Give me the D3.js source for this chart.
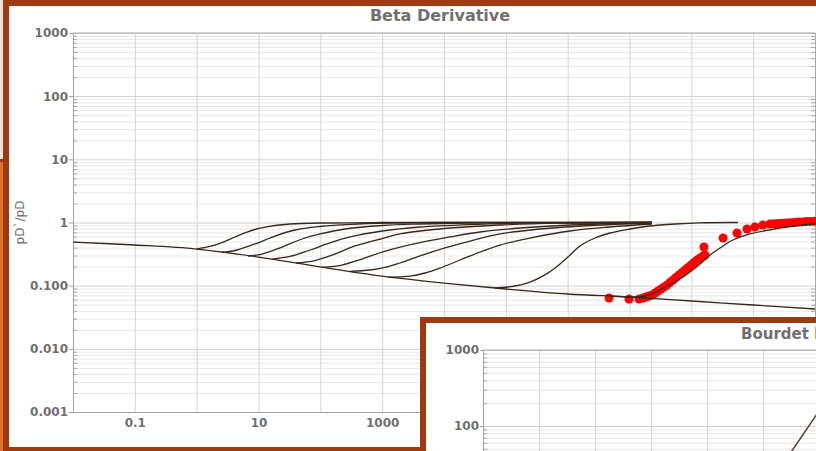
<!DOCTYPE html>
<html>
<head>
<meta charset="utf-8">
<script src="https://cdn.jsdelivr.net/npm/d3@7"></script>
<style>
  html, body { margin: 0; padding: 0; background: #fff; overflow: hidden; }
  svg { display: block; font-family: "DejaVu Sans", Verdana, sans-serif; }
</style>
</head>
<body>
<div id="root"></div>
<script>
const WIDTH = 816
const HEIGHT = 451
const FRAME_COLOR = '#a0390f'
const CURVE_COLOR = '#3a2718'
const TEXT_COLOR = '#6e6e6e'

// tick labels
const yTickValues = [0.001, 0.01, 0.1, 1, 10, 100, 1000]
const yTickLabels = ['0.001', '0.010', '0.100', '1', '10', '100', '1000']
const xTickValues = [0.1, 10, 1000, 1e5, 1e7, 1e9]
const xTickLabels = ['0.1', '10', '1000', '1.0E5', '1.0E7', '1.0E9']
const bourdetYTickValues = [100, 1000]
const bourdetYTickLabels = ['100', '1000']

// lower envelope (tD, pD'/pD)
const envelope = [
  [0.01, 0.49], [0.1, 0.44], [1, 0.38], [10, 0.284], [100, 0.198], [1000, 0.142],
  [1e4, 0.110], [1e5, 0.0886], [1e6, 0.0738], [1e7, 0.0662], [1e8, 0.0572],
  [1e9, 0.0494], [1e10, 0.0427]
]

// type curves leaving the envelope
const typeCurve1 = [[1, 0.38], [1.64, 0.417], [2.57, 0.482], [4.17, 0.59], [6.52, 0.707], [10.2, 0.804], [18.5, 0.897], [32.3, 0.947], [98.8, 0.982], [923, 1], [2.31e7, 1]]
const typeCurve2 = [[2.57, 0.335], [4.49, 0.367], [8.79, 0.457], [18.5, 0.611], [38.9, 0.761], [98.8, 0.864], [302, 0.936], [1340, 0.982], [8630, 1], [2.31e7, 1]]
const typeCurve3 = [[6.76, 0.295], [11.4, 0.317], [24, 0.409], [50.6, 0.548], [98.8, 0.658], [251, 0.789], [995, 0.897], [4093, 0.947], [26360, 0.982], [2.31e7, 1]]
const typeCurve4 = [[16.5, 0.264], [32.3, 0.29], [68.1, 0.367], [143, 0.474], [302, 0.59], [995, 0.734], [4093, 0.849], [26360, 0.93], [1.7e5, 0.975], [2.31e7, 1]]
const typeCurve5 = [[40.4, 0.2285], [82, 0.25], [173, 0.317], [364, 0.425], [995, 0.558], [1944, 0.658], [4093, 0.734], [12500, 0.818], [80530, 0.913], [7.52e5, 0.975], [2.31e7, 1]]
const typeCurve6 = [[106, 0.1953], [224, 0.212], [472, 0.264], [995, 0.341], [1944, 0.409], [4093, 0.482], [12500, 0.59], [38280, 0.707], [1.7e5, 0.818], [1.09e6, 0.913], [2.31e7, 1]]
const typeCurve7 = [[302, 0.1689], [635, 0.177], [1112, 0.194], [1944, 0.2285], [4093, 0.295], [10380, 0.395], [26360, 0.509], [80530, 0.658], [3.57e5, 0.789], [2.3e6, 0.897], [2.31e7, 0.982]]
const typeCurve8 = [[1245, 0.137], [2820, 0.142], [4930, 0.1587], [8630, 0.19], [18160, 0.255], [38280, 0.341], [80530, 0.44], [2.46e5, 0.568], [1.09e6, 0.734], [4.84e6, 0.849], [2.31e7, 0.947]]
const typeCurve9 = [[66870, 0.0918], [1.41e5, 0.0988], [2.46e5, 0.114], [4.3e5, 0.148], [6.25e5, 0.19], [1.01e6, 0.284], [1.58e6, 0.425], [2.77e6, 0.568], [4.84e6, 0.682], [1.02e7, 0.789], [2.15e7, 0.88], [5.45e7, 0.947], [1.38e8, 0.99], [5.69e8, 1]]
const matchCurve = [[4.84e6, 0.0686], [1.14e7, 0.0662], [1.78e7, 0.0686], [3.11e7, 0.0854], [7.34e7, 0.137], [1.38e8, 0.22], [2.01e8, 0.306], [2.91e8, 0.395], [4.72e8, 0.528], [8.89e8, 0.658], [2.72e9, 0.818], [1.04e10, 0.964]]

// measured data
const measured = [
  [4.67e6, 0.0638], [9.82e6, 0.0615], [1.43e7, 0.0615],
  [1.66e7, 0.0638], [1.85e7, 0.0662], [2.07e7, 0.0686], [2.31e7, 0.0712], [2.59e7, 0.0766],
  [2.89e7, 0.0823], [3.24e7, 0.0886], [3.61e7, 0.0953], [4.05e7, 0.1025], [4.52e7, 0.1122],
  [5.06e7, 0.1229], [5.66e7, 0.1347], [6.32e7, 0.148], [7.08e7, 0.1616], [7.91e7, 0.177],
  [8.85e7, 0.194], [9.89e7, 0.2124], [1.11e8, 0.233], [1.24e8, 0.255], [1.38e8, 0.274],
  [1.55e8, 0.295], [1.67e8, 0.306],
  [1.6e8, 0.409], [3.26e8, 0.568], [5.48e8, 0.682], [7.96e8, 0.789], [1.07e9, 0.849],
  [1.44e9, 0.913], [1.87e9, 0.947], [2.18e9, 0.954], [2.52e9, 0.964], [2.93e9, 0.975],
  [3.4e9, 0.982], [3.95e9, 0.993], [4.58e9, 1.004], [5.32e9, 1.015], [6.17e9, 1.022],
  [7.16e9, 1.033], [8.32e9, 1.041], [9.66e9, 1.049]
]

// Bourdet derivative panel (partly visible)
const bourdetLine = [[2470, 34.6], [15700, 256]]

const typeCurves = [typeCurve1, typeCurve2, typeCurve3, typeCurve4, typeCurve5, typeCurve6, typeCurve7, typeCurve8, typeCurve9]

const PLOT = { left: 73, right: 815, top: 33, bottom: 412 }
const BPLOT = { left: 483, right: 1155, top: 350, bottom: 806 }

const svg = d3.select('#root')
  .append('svg')
  .attr('width', WIDTH)
  .attr('height', HEIGHT)

// window fragments behind
svg.append('rect').attr('width', WIDTH).attr('height', HEIGHT).attr('fill', '#efe2d6')
svg.append('rect').attr('x', 0).attr('y', 161).attr('width', 4).attr('height', HEIGHT - 161).attr('fill', '#e2732a')
svg.append('rect').attr('x', 0).attr('y', 159).attr('width', 4).attr('height', 3).attr('fill', FRAME_COLOR)

// main panel
svg.append('rect').attr('x', 3).attr('y', 0).attr('width', WIDTH).attr('height', HEIGHT).attr('fill', FRAME_COLOR)
svg.append('rect').attr('x', 9).attr('y', 6).attr('width', WIDTH).attr('height', 441).attr('fill', '#fff')

const xScale = d3.scaleLog().domain([0.01, 1e10]).range([PLOT.left, PLOT.right])
const yScale = d3.scaleLog().domain([0.001, 1000]).range([PLOT.bottom, PLOT.top])

function drawGrid(g, x, y, box) {
  const isDecade = d => Math.abs(Math.log10(d) - Math.round(Math.log10(d))) < 1e-9
  const minorY = y.ticks().filter(d => !isDecade(d))
  const majorY = y.ticks().filter(isDecade)
  const majorX = x.ticks().filter(isDecade)

  g.append('g')
    .attr('transform', `translate(${box.left},0)`)
    .call(d3.axisLeft(y).tickValues(minorY).tickSize(-(box.right - box.left)).tickFormat(''))
    .call(s => s.select('.domain').remove())
    .call(s => s.selectAll('line').attr('stroke', '#e6e6e6'))

  g.append('g')
    .attr('transform', `translate(${box.left},0)`)
    .call(d3.axisLeft(y).tickValues(majorY).tickSize(-(box.right - box.left)).tickFormat(''))
    .call(s => s.select('.domain').remove())
    .call(s => s.selectAll('line').attr('stroke', '#d0d0d0'))

  g.append('g')
    .attr('transform', `translate(0,${box.bottom})`)
    .call(d3.axisBottom(x).tickValues(majorX).tickSize(-(box.bottom - box.top)).tickFormat(''))
    .call(s => s.select('.domain').remove())
    .call(s => s.selectAll('line').attr('stroke', '#d4d4d4'))

  // small inner minor ticks on left and right edges
  g.append('g')
    .attr('transform', `translate(${box.left},0)`)
    .call(d3.axisLeft(y).tickValues(minorY).tickSize(-4).tickFormat(''))
    .call(s => s.select('.domain').remove())
    .call(s => s.selectAll('line').attr('stroke', '#a8a8a8'))
  g.append('g')
    .attr('transform', `translate(${box.right},0)`)
    .call(d3.axisRight(y).tickValues(minorY).tickSize(-4).tickFormat(''))
    .call(s => s.select('.domain').attr('stroke', '#a8a8a8'))
    .call(s => s.selectAll('line').attr('stroke', '#a8a8a8'))

  // top border
  g.append('line')
    .attr('x1', box.left).attr('x2', box.right)
    .attr('y1', box.top).attr('y2', box.top)
    .attr('stroke', '#a8a8a8')
}

function styleLabels(s) {
  s.selectAll('text')
    .attr('fill', TEXT_COLOR)
    .style('font-size', '12px')
    .style('font-weight', 'bold')
    .style('font-family', '"DejaVu Sans", Verdana, sans-serif')
}

const main = svg.append('g')
drawGrid(main, xScale, yScale, PLOT)

main.append('g')
  .attr('transform', `translate(${PLOT.left},0)`)
  .call(d3.axisLeft(yScale).tickValues(yTickValues).tickFormat((d, i) => yTickLabels[i]).tickSize(4).tickPadding(1))
  .call(s => s.select('.domain').attr('stroke', '#a0a0a0'))
  .call(s => s.selectAll('line').attr('stroke', '#a0a0a0'))
  .call(styleLabels)

main.append('g')
  .attr('transform', `translate(0,${PLOT.bottom})`)
  .call(d3.axisBottom(xScale).tickValues(xTickValues).tickFormat((d, i) => xTickLabels[i]).tickSize(0).tickPadding(6))
  .call(s => s.select('.domain').attr('stroke', '#a0a0a0'))
  .call(styleLabels)

main.append('text')
  .attr('x', 440)
  .attr('y', 21)
  .attr('text-anchor', 'middle')
  .attr('fill', '#707070')
  .style('font-size', '16px')
  .style('font-weight', 'bold')
  .text('Beta Derivative')

main.append('text')
  .attr('transform', `translate(24,${(PLOT.top + PLOT.bottom) / 2}) rotate(-90)`)
  .attr('text-anchor', 'middle')
  .attr('fill', TEXT_COLOR)
  .style('font-size', '12px')
  .text('pD`/pD')

svg.append('clipPath').attr('id', 'plot-clip')
  .append('rect')
  .attr('x', PLOT.left).attr('y', PLOT.top)
  .attr('width', WIDTH).attr('height', PLOT.bottom - PLOT.top)

const line = d3.line()
  .x(d => xScale(d[0]))
  .y(d => yScale(d[1]))
  .curve(d3.curveCatmullRom.alpha(0.5))

const curves = main.append('g').attr('clip-path', 'url(#plot-clip)')

curves.selectAll('circle')
  .data(measured)
  .enter()
  .append('circle')
  .attr('cx', d => xScale(d[0]))
  .attr('cy', d => yScale(d[1]))
  .attr('r', 4.5)
  .attr('fill', '#ff0000')

curves.append('path')
  .datum(envelope)
  .attr('d', line)
  .attr('fill', 'none')
  .attr('stroke', CURVE_COLOR)
  .attr('stroke-width', 1.3)

curves.selectAll('.type-curve')
  .data(typeCurves)
  .enter()
  .append('path')
  .attr('class', 'type-curve')
  .attr('d', line)
  .attr('fill', 'none')
  .attr('stroke', CURVE_COLOR)
  .attr('stroke-width', 1.3)

curves.append('path')
  .datum(matchCurve)
  .attr('d', line)
  .attr('fill', 'none')
  .attr('stroke', CURVE_COLOR)
  .attr('stroke-width', 1.3)

// Bourdet panel on top
const bourdet = svg.append('g')
bourdet.append('rect').attr('x', 420).attr('y', 317).attr('width', 500).attr('height', 200).attr('fill', FRAME_COLOR)
bourdet.append('rect').attr('x', 426).attr('y', 323).attr('width', 500).attr('height', 200).attr('fill', '#fff')

const bxScale = d3.scaleLog().domain([0.01, 1e10]).range([BPLOT.left, BPLOT.right])
const byScale = d3.scaleLog().domain([0.001, 1000]).range([BPLOT.bottom, BPLOT.top])

drawGrid(bourdet, bxScale, byScale, BPLOT)

bourdet.append('g')
  .attr('transform', `translate(${BPLOT.left},0)`)
  .call(d3.axisLeft(byScale).tickValues(bourdetYTickValues).tickFormat((d, i) => bourdetYTickLabels[i]).tickSize(3).tickPadding(1))
  .call(s => s.select('.domain').attr('stroke', '#a0a0a0'))
  .call(s => s.selectAll('line').attr('stroke', '#a0a0a0'))
  .call(styleLabels)

bourdet.append('text')
  .attr('x', 741)
  .attr('y', 339)
  .attr('fill', '#707070')
  .style('font-size', '15px')
  .style('font-weight', 'bold')
  .text('Bourdet Derivative')

const bline = d3.line()
  .x(d => bxScale(d[0]))
  .y(d => byScale(d[1]))

bourdet.append('path')
  .datum(bourdetLine)
  .attr('d', bline)
  .attr('fill', 'none')
  .attr('stroke', '#5a3b22')
  .attr('stroke-width', 1.5)
</script>
</body>
</html>
